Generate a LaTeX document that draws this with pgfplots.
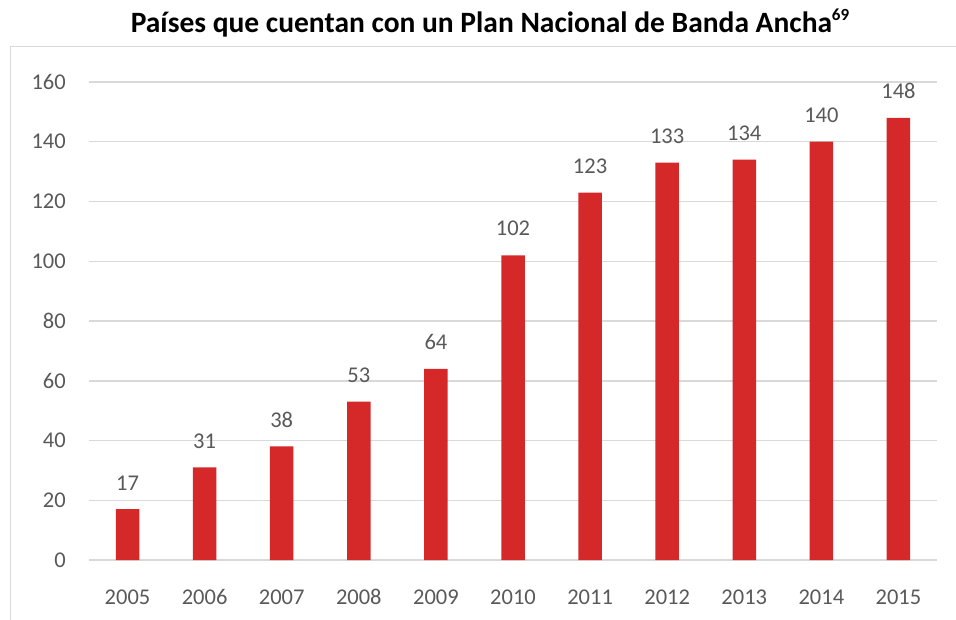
\documentclass[border=0pt]{standalone}
\usepackage{pgfplots}
\pgfplotsset{compat=1.18}
\usepackage{fontspec}
\setmainfont{Carlito}
\definecolor{barred}{RGB}{212,40,41}
\definecolor{gridgray}{RGB}{217,217,217}
\definecolor{txtgray}{RGB}{89,89,89}
\begin{document}
\begin{tikzpicture}[x=1pt,y=1pt]
\useasboundingbox (-89,-59) rectangle (867,560);
\draw[gridgray, line width=1.2pt] (-78.3,-90) -- (-78.3,513.3) -- (900,513.3);
\begin{axis}[
  at={(0,0)}, anchor=south west,
  scale only axis, width=848pt, height=478pt,
  xmin=-0.5, xmax=10.5, ymin=0, ymax=160,
  ytick={0,20,...,160},
  xtick={0,...,10},
  xticklabels={2005,2006,2007,2008,2009,2010,2011,2012,2013,2014,2015},
  axis line style={draw=none},
  tick style={draw=none},
  ymajorgrids,
  grid style={gridgray, line width=1.5pt},
  /pgf/number format/assume math mode=true,
  tick label style={font=\fontsize{22.5}{27}\selectfont, text=txtgray, inner sep=0pt},
  yticklabel style={xshift=-23pt},
  xticklabel style={anchor=north, yshift=-25pt},
  ybar, bar width=23.5pt,
  nodes near coords,
  every node near coord/.append style={font=\fontsize{22.5}{27}\selectfont, text=txtgray, inner sep=0pt, anchor=south, yshift=19pt},
  clip=false,
]
\addplot[fill=barred, draw=none] coordinates {(0,17) (1,31) (2,38) (3,53) (4,64) (5,102) (6,123) (7,133) (8,134) (9,140) (10,148)};
\end{axis}
\node[anchor=base, inner sep=0pt, font=\bfseries\fontsize{29.5}{34}\selectfont] at (401,527) {Países que cuentan con un Plan Nacional de Banda Ancha\raisebox{12pt}{\fontsize{17}{20}\selectfont 69}};
\end{tikzpicture}
\end{document}
